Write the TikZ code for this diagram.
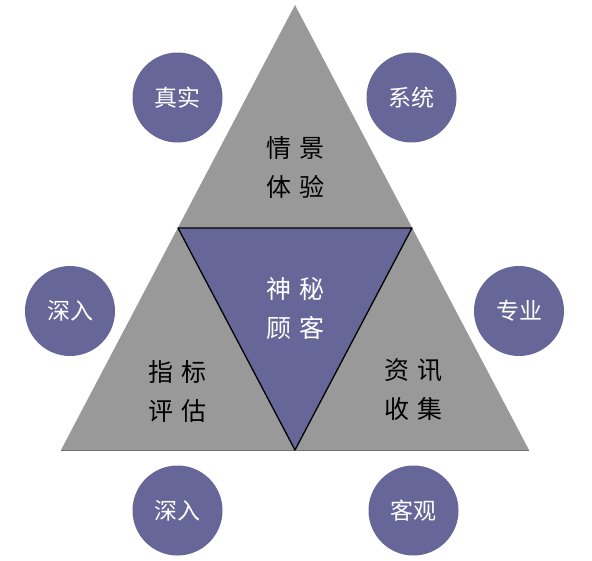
\documentclass[tikz,border=0pt]{standalone}
\usepackage{fontspec}
\newfontfamily\cjk{Noto Sans CJK SC}
\definecolor{trigray}{HTML}{999999}
\definecolor{edgegray}{HTML}{707070}
\definecolor{violetblue}{HTML}{666699}
\tikzset{
  bubble/.style={circle, fill=violetblue, minimum size=90pt, inner sep=0pt, text=white, font=\cjk\fontsize{23}{26}\selectfont},
  blacklabel/.style={align=center, text=black, font=\cjk\fontsize{25}{39}\selectfont},
  whitelabel/.style={align=center, text=white, font=\cjk\fontsize{25}{39}\selectfont},
}
\newcommand{\gp}{\kern8pt}
\begin{document}
\begin{tikzpicture}[x=1pt,y=-1pt]
\useasboundingbox (0,0) rectangle (592,560);
\coordinate (A) at (295,5);
\coordinate (L) at (61,450);
\coordinate (R) at (529,450);
\coordinate (ML) at (178,228);
\coordinate (MR) at (412,228);
\coordinate (MB) at (295,450);
\fill[trigray] (A) -- (L) -- (R) -- cycle;
\draw[edgegray, line width=0.8pt] (L) -- (R);
\filldraw[fill=violetblue, draw=black, line width=1.3pt, line join=round] (ML) -- (MR) -- (MB) -- cycle;
\node[blacklabel] (top) at (295,167) {情\gp 景\\体\gp 验};
\node[whitelabel] (mid) at (295,309) {神\gp 秘\\顾\gp 客};
\node[blacklabel] (left) at (177,391) {指\gp 标\\评\gp 估};
\node[blacklabel] (right) at (413,390) {资\gp 讯\\收\gp 集};
\node[bubble] (c1) at (177.5,97.5) {真实};
\node[bubble] (c2) at (411.5,97.5) {系统};
\node[bubble] (c3) at (70,311) {深入};
\node[bubble] (c4) at (519,311) {专业};
\node[bubble] (c5) at (177.5,510.5) {深入};
\node[bubble] (c6) at (413.5,510.5) {客观};
\end{tikzpicture}
\end{document}
